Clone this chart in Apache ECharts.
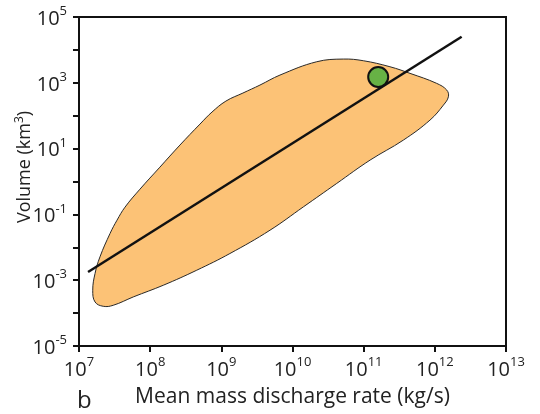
<!DOCTYPE html>
<html>
<head>
<meta charset="utf-8">
<script src="https://cdn.jsdelivr.net/npm/echarts@6/dist/echarts.min.js"></script>
<style>
  html, body { margin: 0; padding: 0; background: #fff; }
  #main { width: 540px; height: 414px; }
</style>
</head>
<body>
<div id="main"></div>
<script>
var chart = echarts.init(document.getElementById('main'));

// outline of the shaded field, clockwise from the left tip
var blobX = [1.56e7, 1.68e7, 1.97e7, 2.73e7, 3.42e7, 4.43e7, 7.19e7, 1.37e8, 2.62e8, 5.01e8,
             7.39e8, 1.16e9, 2.01e9, 3.49e9, 6.67e9, 2.19e10, 5.18e10, 9.89e10, 2.34e11, 4.48e11,
             1.06e12, 1.47e12, 1.55e12, 1.32e12, 8.55e11, 3.61e11, 1.23e11, 4.18e10, 1.42e10, 4.83e9,
             1.32e9, 4.51e8, 1.53e8, 5.79e7, 3.03e7, 2.19e7, 1.68e7];
var blobY = [4.95e-4, 1.60e-3, 5.11e-3, 2.63e-2, 0.0667, 0.166, 0.585, 2.73, 12.8, 55.6,
             129, 278, 488, 853, 1718, 4365, 5272, 4688, 3076, 1936,
             962, 601, 376, 210, 73.5, 18.1, 4.47, 0.873, 0.169, 3.31e-2,
             6.47e-3, 2.01e-3, 7.03e-4, 3.10e-4, 1.73e-4, 1.61e-4, 2.18e-4];

// fitted trend line end points
var fitLine = [[1.34e7, 1.78e-3], [2.38e12, 2.52e4]];

// observed event
var eventPoint = [[1.6e11, 1.5e3]];

// decades for ticks and labels
var xTicks = [1e7, 1e8, 1e9, 1e10, 1e11, 1e12, 1e13];
var yTicks = [1e-5, 1e-4, 1e-3, 1e-2, 1e-1, 1, 10, 100, 1e3, 1e4, 1e5];
var yLabels = [1e-5, 1e-3, 1e-1, 10, 1e3, 1e5];

var font = 'Open Sans';

function powLabel(v) {
    var e = Math.round(Math.log(v) / Math.LN10);
    return '{b|10}{s|' + e + '}';
}

var labelRich = {
    b: { fontSize: 20, fontFamily: font, color: '#222', lineHeight: 24, verticalAlign: 'bottom' },
    s: { fontSize: 13, fontFamily: font, color: '#222', lineHeight: 24, verticalAlign: 'top' }
};

var option = {
    backgroundColor: '#fff',
    animation: false,
    grid: {
        left: 79, right: 34, top: 17, bottom: 68,
        show: true,
        borderColor: '#111',
        borderWidth: 2,
        backgroundColor: 'transparent'
    },
    xAxis: {
        type: 'log',
        logBase: 10,
        min: 1e7,
        max: 1e13,
        name: 'Mean mass discharge rate (kg/s)',
        nameLocation: 'middle',
        nameGap: 41,
        nameTextStyle: { fontSize: 21, fontFamily: font, color: '#222' },
        axisLine: { lineStyle: { color: '#111', width: 2 } },
        axisTick: { show: true, length: 6, customValues: xTicks, lineStyle: { color: '#111', width: 2 } },
        minorTick: { show: false },
        splitLine: { show: false },
        axisLabel: { margin: 10, customValues: xTicks, formatter: powLabel, rich: labelRich }
    },
    yAxis: {
        type: 'log',
        logBase: 10,
        min: 1e-5,
        max: 1e5,
        axisLine: { lineStyle: { color: '#111', width: 2 } },
        axisTick: { show: true, length: 6, customValues: yTicks, lineStyle: { color: '#111', width: 2 } },
        minorTick: { show: false },
        splitLine: { show: false },
        axisLabel: { margin: 12, customValues: yLabels, formatter: powLabel, rich: labelRich }
    },
    graphic: [
        {
            type: 'text',
            x: 25,
            y: 167,
            rotation: Math.PI / 2,
            style: {
                text: 'Volume (km{s|3})',
                fontSize: 18,
                fontFamily: font,
                fill: '#222',
                align: 'center',
                verticalAlign: 'middle',
                rich: {
                    s: { fontSize: 12, fontFamily: font, fill: '#222', verticalAlign: 'top', lineHeight: 22 }
                }
            }
        },
        {
            type: 'text',
            left: 77,
            top: 389,
            style: { text: 'b', fontSize: 24, fontFamily: font, fill: '#222' }
        }
    ],
    series: [
        {
            type: 'custom',
            data: [0],
            z: 1,
            renderItem: function (params, api) {
                var pts = blobX.map(function (x, i) {
                    return api.coord([x, blobY[i]]);
                });
                return {
                    type: 'polygon',
                    shape: { points: pts, smooth: 0.4 },
                    style: { fill: '#FCC276', stroke: '#2a2a2a', lineWidth: 1 }
                };
            }
        },
        {
            type: 'line',
            data: fitLine,
            z: 2,
            symbol: 'none',
            lineStyle: { color: '#111', width: 2.5 }
        },
        {
            type: 'scatter',
            data: eventPoint,
            z: 3,
            symbolSize: 20,
            itemStyle: { color: '#67B245', borderColor: '#111', borderWidth: 2, opacity: 1 }
        }
    ]
};
chart.setOption(option);
</script>
</body>
</html>
